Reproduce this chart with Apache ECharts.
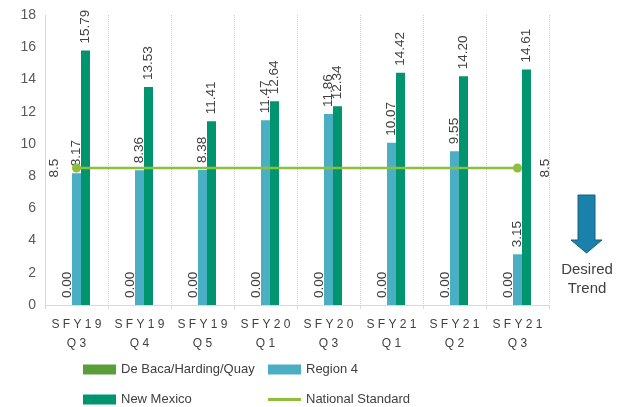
<!DOCTYPE html>
<html><head><meta charset="utf-8">
<script src="https://cdn.jsdelivr.net/npm/echarts@6/dist/echarts.min.js"></script>
<style>html,body{margin:0;padding:0;background:#fff}#c{width:618px;height:407px}</style>
</head><body><div id="c"></div>
<script>
const categories = ["SFY19 Q3","SFY19 Q4","SFY19 Q5","SFY20 Q1","SFY20 Q3","SFY21 Q1","SFY21 Q2","SFY21 Q3"];
const deBaca = [0,0,0,0,0,0,0,0];
const region4 = [8.17,8.36,8.38,11.47,11.86,10.07,9.55,3.15];
const newMexico = [15.79,13.53,11.41,12.64,12.34,14.42,14.20,14.61];
const nationalStandard = [8.5,8.5,8.5,8.5,8.5,8.5,8.5,8.5];
const yTicks = {min:0, max:18, interval:2};

const C_DB = '#5A9E3A', C_R4 = '#4BAFC4', C_NM = '#00956F', C_NS = '#8DBE3C';
const txt = '#404040';
const font = "'Liberation Sans',Arial,sans-serif";

function spaced(s){
  return s.split(' ').map(p => p.split('').join(' ')).join('\n');
}
const barLabel = {
  show:true, position:'top', rotate:90, align:'left', verticalAlign:'middle',
  distance:7, fontSize:13.5, color:txt, fontFamily:font,
  formatter: p => Number(p.value).toFixed(2)
};
const last = nationalStandard.length-1;
const nsData = nationalStandard.map((v,i)=>{
  if(i===0) return {value:v, label:{show:true, position:'left', distance:11, rotate:90, align:'center', verticalAlign:'bottom', fontSize:13.5, color:txt, fontFamily:font, formatter:p=>String(p.value)}};
  if(i===last) return {value:v, label:{show:true, position:'right', distance:16, rotate:90, align:'center', verticalAlign:'top', fontSize:13.5, color:txt, fontFamily:font, formatter:p=>String(p.value)}};
  return {value:v, label:{show:false}};
});

const legendBase = {orient:'horizontal', itemWidth:33, itemHeight:10, itemGap:6, icon:'rect',
  textStyle:{fontSize:13, color:txt, fontFamily:font}, selectedMode:false};

const chart = echarts.init(document.getElementById('c'), null, {renderer:'canvas'});
chart.setOption({
  animation:false,
  textStyle:{fontFamily:font},
  grid:{left:45, right:69, top:15, bottom:102},
  xAxis:{type:'category', data:categories,
    axisLine:{lineStyle:{color:'#D9D9D9'}},
    axisTick:{show:true, length:4, lineStyle:{color:'#D9D9D9'}},
    splitLine:{show:true, lineStyle:{color:'#D0D0D0', type:'dotted'}},
    axisLabel:{interval:0, color:txt, fontSize:12, lineHeight:19, margin:10, formatter: spaced}
  },
  yAxis:{type:'value', min:yTicks.min, max:yTicks.max, interval:yTicks.interval,
    axisLine:{show:true, lineStyle:{color:'#D9D9D9'}},
    axisTick:{show:false},
    splitLine:{show:false},
    axisLabel:{color:'#595959', fontSize:14, margin:9}
  },
  legend:[
    Object.assign({}, legendBase, {left:78, top:358, data:['De Baca/Harding/Quay']}),
    Object.assign({}, legendBase, {left:263, top:358, data:['Region 4']}),
    Object.assign({}, legendBase, {left:78, top:388, data:['New Mexico']}),
    Object.assign({}, legendBase, {left:263, top:388, itemHeight:3, data:[{name:'National Standard', icon:'rect'}]})
  ],
  series:[
    {name:'De Baca/Harding/Quay', type:'bar', data:deBaca, barWidth:9, barGap:'0%', itemStyle:{color:C_DB}, label:barLabel},
    {name:'Region 4', type:'bar', data:region4, barWidth:9, barGap:'0%', itemStyle:{color:C_R4}, label:barLabel},
    {name:'New Mexico', type:'bar', data:newMexico, barWidth:9, barGap:'0%', itemStyle:{color:C_NM}, label:barLabel},
    {name:'National Standard', type:'line', data:nsData, z:5,
      lineStyle:{color:C_NS, width:2.5}, itemStyle:{color:C_NS},
      symbol:'circle', showSymbol:true,
      symbolSize:(v,p)=> (p.dataIndex===0||p.dataIndex===last)?9:0}
  ],
  graphic:[
    {type:'polygon', shape:{points:[[578,195],[595,195],[595,240],[602,240],[586.5,253],[571,240],[578,240]]},
      style:{fill:'#1A80AC', stroke:'#16627F', lineWidth:1}},
    {type:'text', x:587, y:270, style:{text:'Desired', fontSize:15, fill:txt, fontFamily:font, align:'center', verticalAlign:'middle'}},
    {type:'text', x:587, y:289, style:{text:'Trend', fontSize:15, fill:txt, fontFamily:font, align:'center', verticalAlign:'middle'}}
  ]
});
</script></body></html>
